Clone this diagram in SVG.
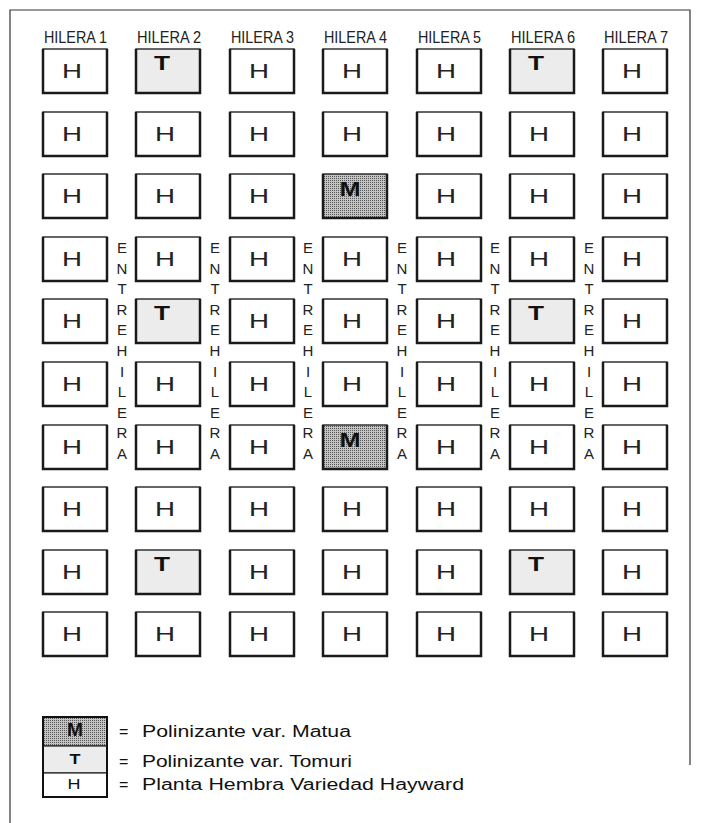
<svg xmlns="http://www.w3.org/2000/svg" width="704" height="823" viewBox="0 0 704 823">
<defs>
<pattern id="dots" width="2" height="2" patternUnits="userSpaceOnUse">
<rect width="2" height="2" fill="#c4c4c4"/>
<rect width="1" height="1" fill="#555"/>
</pattern>
<style>
.bx{stroke:#333;stroke-width:1.5;fill:#fff}
.bt{fill:#ececec}
.bm{fill:url(#dots)}
.ed{fill:none;stroke:#1a1a1a;stroke-width:2.5}
.h{font-family:"Liberation Sans",Arial,sans-serif;font-size:21px;fill:#222;text-anchor:middle}
.b{font-family:"Liberation Sans",Arial,sans-serif;font-size:21px;font-weight:bold;fill:#111;text-anchor:middle}
.hd{font-family:"Liberation Sans",Arial,sans-serif;font-size:16px;fill:#222}
.v{font-family:"Liberation Sans",Arial,sans-serif;font-size:15px;fill:#222;text-anchor:middle}
.lg{font-family:"Liberation Sans",Arial,sans-serif;font-size:16px;fill:#111}
</style>
</defs>
<rect width="704" height="823" fill="#fff"/>
<path d="M10,823 V10 H690 V765" fill="none" stroke="#333" stroke-width="1.2"/>
<g id="headers">
<text class="hd" x="44" y="43" textLength="63" lengthAdjust="spacingAndGlyphs">HILERA 1</text>
<text class="hd" x="137" y="43" textLength="64" lengthAdjust="spacingAndGlyphs">HILERA 2</text>
<text class="hd" x="231" y="43" textLength="63" lengthAdjust="spacingAndGlyphs">HILERA 3</text>
<text class="hd" x="324" y="43" textLength="63" lengthAdjust="spacingAndGlyphs">HILERA 4</text>
<text class="hd" x="418" y="43" textLength="63" lengthAdjust="spacingAndGlyphs">HILERA 5</text>
<text class="hd" x="511" y="43" textLength="64" lengthAdjust="spacingAndGlyphs">HILERA 6</text>
<text class="hd" x="604" y="43" textLength="64" lengthAdjust="spacingAndGlyphs">HILERA 7</text>
</g>
<g id="entrehileras">
<text class="v"><tspan x="122" y="253">E</tspan><tspan x="122" y="273.6">N</tspan><tspan x="122" y="294.2">T</tspan><tspan x="122" y="314.8">R</tspan><tspan x="122" y="335.4">E</tspan><tspan x="122" y="356">H</tspan><tspan x="122" y="376.6">I</tspan><tspan x="122" y="397.2">L</tspan><tspan x="122" y="417.8">E</tspan><tspan x="122" y="438.4">R</tspan><tspan x="122" y="459">A</tspan></text>
<text class="v"><tspan x="215" y="253">E</tspan><tspan x="215" y="273.6">N</tspan><tspan x="215" y="294.2">T</tspan><tspan x="215" y="314.8">R</tspan><tspan x="215" y="335.4">E</tspan><tspan x="215" y="356">H</tspan><tspan x="215" y="376.6">I</tspan><tspan x="215" y="397.2">L</tspan><tspan x="215" y="417.8">E</tspan><tspan x="215" y="438.4">R</tspan><tspan x="215" y="459">A</tspan></text>
<text class="v"><tspan x="308" y="253">E</tspan><tspan x="308" y="273.6">N</tspan><tspan x="308" y="294.2">T</tspan><tspan x="308" y="314.8">R</tspan><tspan x="308" y="335.4">E</tspan><tspan x="308" y="356">H</tspan><tspan x="308" y="376.6">I</tspan><tspan x="308" y="397.2">L</tspan><tspan x="308" y="417.8">E</tspan><tspan x="308" y="438.4">R</tspan><tspan x="308" y="459">A</tspan></text>
<text class="v"><tspan x="402" y="253">E</tspan><tspan x="402" y="273.6">N</tspan><tspan x="402" y="294.2">T</tspan><tspan x="402" y="314.8">R</tspan><tspan x="402" y="335.4">E</tspan><tspan x="402" y="356">H</tspan><tspan x="402" y="376.6">I</tspan><tspan x="402" y="397.2">L</tspan><tspan x="402" y="417.8">E</tspan><tspan x="402" y="438.4">R</tspan><tspan x="402" y="459">A</tspan></text>
<text class="v"><tspan x="495" y="253">E</tspan><tspan x="495" y="273.6">N</tspan><tspan x="495" y="294.2">T</tspan><tspan x="495" y="314.8">R</tspan><tspan x="495" y="335.4">E</tspan><tspan x="495" y="356">H</tspan><tspan x="495" y="376.6">I</tspan><tspan x="495" y="397.2">L</tspan><tspan x="495" y="417.8">E</tspan><tspan x="495" y="438.4">R</tspan><tspan x="495" y="459">A</tspan></text>
<text class="v"><tspan x="589" y="253">E</tspan><tspan x="589" y="273.6">N</tspan><tspan x="589" y="294.2">T</tspan><tspan x="589" y="314.8">R</tspan><tspan x="589" y="335.4">E</tspan><tspan x="589" y="356">H</tspan><tspan x="589" y="376.6">I</tspan><tspan x="589" y="397.2">L</tspan><tspan x="589" y="417.8">E</tspan><tspan x="589" y="438.4">R</tspan><tspan x="589" y="459">A</tspan></text>
</g>
<g id="grid">
<!-- Row 1 y=49 -->
<g id="r1c1"><rect class="bx" x="43" y="49" width="64" height="44"/><path class="ed" d="M43,49 V93 H107 V49"/><text class="h" x="72" y="77.5" textLength="20" lengthAdjust="spacingAndGlyphs">H</text></g>
<g id="r1c2"><rect class="bx bt" x="136" y="49" width="64" height="44"/><path class="ed" d="M136,49 V93 H200 V49"/><text class="b" x="162" y="70" textLength="16" lengthAdjust="spacingAndGlyphs">T</text></g>
<g id="r1c3"><rect class="bx" x="230" y="49" width="64" height="44"/><path class="ed" d="M230,49 V93 H294 V49"/><text class="h" x="259" y="77.5" textLength="20" lengthAdjust="spacingAndGlyphs">H</text></g>
<g id="r1c4"><rect class="bx" x="323" y="49" width="64" height="44"/><path class="ed" d="M323,49 V93 H387 V49"/><text class="h" x="352" y="77.5" textLength="20" lengthAdjust="spacingAndGlyphs">H</text></g>
<g id="r1c5"><rect class="bx" x="417" y="49" width="64" height="44"/><path class="ed" d="M417,49 V93 H481 V49"/><text class="h" x="446" y="77.5" textLength="20" lengthAdjust="spacingAndGlyphs">H</text></g>
<g id="r1c6"><rect class="bx bt" x="510" y="49" width="64" height="44"/><path class="ed" d="M510,49 V93 H574 V49"/><text class="b" x="536" y="70" textLength="16" lengthAdjust="spacingAndGlyphs">T</text></g>
<g id="r1c7"><rect class="bx" x="603" y="49" width="64" height="44"/><path class="ed" d="M603,49 V93 H667 V49"/><text class="h" x="632" y="77.5" textLength="20" lengthAdjust="spacingAndGlyphs">H</text></g>
<!-- Row 2 y=112 -->
<g id="r2c1"><rect class="bx" x="43" y="112" width="64" height="44"/><path class="ed" d="M43,112 V156 H107 V112"/><text class="h" x="72" y="140.5" textLength="20" lengthAdjust="spacingAndGlyphs">H</text></g>
<g id="r2c2"><rect class="bx" x="136" y="112" width="64" height="44"/><path class="ed" d="M136,112 V156 H200 V112"/><text class="h" x="165" y="140.5" textLength="20" lengthAdjust="spacingAndGlyphs">H</text></g>
<g id="r2c3"><rect class="bx" x="230" y="112" width="64" height="44"/><path class="ed" d="M230,112 V156 H294 V112"/><text class="h" x="259" y="140.5" textLength="20" lengthAdjust="spacingAndGlyphs">H</text></g>
<g id="r2c4"><rect class="bx" x="323" y="112" width="64" height="44"/><path class="ed" d="M323,112 V156 H387 V112"/><text class="h" x="352" y="140.5" textLength="20" lengthAdjust="spacingAndGlyphs">H</text></g>
<g id="r2c5"><rect class="bx" x="417" y="112" width="64" height="44"/><path class="ed" d="M417,112 V156 H481 V112"/><text class="h" x="446" y="140.5" textLength="20" lengthAdjust="spacingAndGlyphs">H</text></g>
<g id="r2c6"><rect class="bx" x="510" y="112" width="64" height="44"/><path class="ed" d="M510,112 V156 H574 V112"/><text class="h" x="539" y="140.5" textLength="20" lengthAdjust="spacingAndGlyphs">H</text></g>
<g id="r2c7"><rect class="bx" x="603" y="112" width="64" height="44"/><path class="ed" d="M603,112 V156 H667 V112"/><text class="h" x="632" y="140.5" textLength="20" lengthAdjust="spacingAndGlyphs">H</text></g>
<!-- Row 3 y=174 -->
<g id="r3c1"><rect class="bx" x="43" y="174" width="64" height="44"/><path class="ed" d="M43,174 V218 H107 V174"/><text class="h" x="72" y="202.5" textLength="20" lengthAdjust="spacingAndGlyphs">H</text></g>
<g id="r3c2"><rect class="bx" x="136" y="174" width="64" height="44"/><path class="ed" d="M136,174 V218 H200 V174"/><text class="h" x="165" y="202.5" textLength="20" lengthAdjust="spacingAndGlyphs">H</text></g>
<g id="r3c3"><rect class="bx" x="230" y="174" width="64" height="44"/><path class="ed" d="M230,174 V218 H294 V174"/><text class="h" x="259" y="202.5" textLength="20" lengthAdjust="spacingAndGlyphs">H</text></g>
<g id="r3c4"><rect class="bx bm" x="323" y="174" width="64" height="44"/><path class="ed" d="M323,174 V218 H387 V174"/><text class="b" x="350" y="196" textLength="21" lengthAdjust="spacingAndGlyphs">M</text></g>
<g id="r3c5"><rect class="bx" x="417" y="174" width="64" height="44"/><path class="ed" d="M417,174 V218 H481 V174"/><text class="h" x="446" y="202.5" textLength="20" lengthAdjust="spacingAndGlyphs">H</text></g>
<g id="r3c6"><rect class="bx" x="510" y="174" width="64" height="44"/><path class="ed" d="M510,174 V218 H574 V174"/><text class="h" x="539" y="202.5" textLength="20" lengthAdjust="spacingAndGlyphs">H</text></g>
<g id="r3c7"><rect class="bx" x="603" y="174" width="64" height="44"/><path class="ed" d="M603,174 V218 H667 V174"/><text class="h" x="632" y="202.5" textLength="20" lengthAdjust="spacingAndGlyphs">H</text></g>
<!-- Row 4 y=237 -->
<g id="r4c1"><rect class="bx" x="43" y="237" width="64" height="44"/><path class="ed" d="M43,237 V281 H107 V237"/><text class="h" x="72" y="265.5" textLength="20" lengthAdjust="spacingAndGlyphs">H</text></g>
<g id="r4c2"><rect class="bx" x="136" y="237" width="64" height="44"/><path class="ed" d="M136,237 V281 H200 V237"/><text class="h" x="165" y="265.5" textLength="20" lengthAdjust="spacingAndGlyphs">H</text></g>
<g id="r4c3"><rect class="bx" x="230" y="237" width="64" height="44"/><path class="ed" d="M230,237 V281 H294 V237"/><text class="h" x="259" y="265.5" textLength="20" lengthAdjust="spacingAndGlyphs">H</text></g>
<g id="r4c4"><rect class="bx" x="323" y="237" width="64" height="44"/><path class="ed" d="M323,237 V281 H387 V237"/><text class="h" x="352" y="265.5" textLength="20" lengthAdjust="spacingAndGlyphs">H</text></g>
<g id="r4c5"><rect class="bx" x="417" y="237" width="64" height="44"/><path class="ed" d="M417,237 V281 H481 V237"/><text class="h" x="446" y="265.5" textLength="20" lengthAdjust="spacingAndGlyphs">H</text></g>
<g id="r4c6"><rect class="bx" x="510" y="237" width="64" height="44"/><path class="ed" d="M510,237 V281 H574 V237"/><text class="h" x="539" y="265.5" textLength="20" lengthAdjust="spacingAndGlyphs">H</text></g>
<g id="r4c7"><rect class="bx" x="603" y="237" width="64" height="44"/><path class="ed" d="M603,237 V281 H667 V237"/><text class="h" x="632" y="265.5" textLength="20" lengthAdjust="spacingAndGlyphs">H</text></g>
<!-- Row 5 y=299 -->
<g id="r5c1"><rect class="bx" x="43" y="299" width="64" height="44"/><path class="ed" d="M43,299 V343 H107 V299"/><text class="h" x="72" y="327.5" textLength="20" lengthAdjust="spacingAndGlyphs">H</text></g>
<g id="r5c2"><rect class="bx bt" x="136" y="299" width="64" height="44"/><path class="ed" d="M136,299 V343 H200 V299"/><text class="b" x="162" y="320" textLength="16" lengthAdjust="spacingAndGlyphs">T</text></g>
<g id="r5c3"><rect class="bx" x="230" y="299" width="64" height="44"/><path class="ed" d="M230,299 V343 H294 V299"/><text class="h" x="259" y="327.5" textLength="20" lengthAdjust="spacingAndGlyphs">H</text></g>
<g id="r5c4"><rect class="bx" x="323" y="299" width="64" height="44"/><path class="ed" d="M323,299 V343 H387 V299"/><text class="h" x="352" y="327.5" textLength="20" lengthAdjust="spacingAndGlyphs">H</text></g>
<g id="r5c5"><rect class="bx" x="417" y="299" width="64" height="44"/><path class="ed" d="M417,299 V343 H481 V299"/><text class="h" x="446" y="327.5" textLength="20" lengthAdjust="spacingAndGlyphs">H</text></g>
<g id="r5c6"><rect class="bx bt" x="510" y="299" width="64" height="44"/><path class="ed" d="M510,299 V343 H574 V299"/><text class="b" x="536" y="320" textLength="16" lengthAdjust="spacingAndGlyphs">T</text></g>
<g id="r5c7"><rect class="bx" x="603" y="299" width="64" height="44"/><path class="ed" d="M603,299 V343 H667 V299"/><text class="h" x="632" y="327.5" textLength="20" lengthAdjust="spacingAndGlyphs">H</text></g>
<!-- Row 6 y=362 -->
<g id="r6c1"><rect class="bx" x="43" y="362" width="64" height="44"/><path class="ed" d="M43,362 V406 H107 V362"/><text class="h" x="72" y="390.5" textLength="20" lengthAdjust="spacingAndGlyphs">H</text></g>
<g id="r6c2"><rect class="bx" x="136" y="362" width="64" height="44"/><path class="ed" d="M136,362 V406 H200 V362"/><text class="h" x="165" y="390.5" textLength="20" lengthAdjust="spacingAndGlyphs">H</text></g>
<g id="r6c3"><rect class="bx" x="230" y="362" width="64" height="44"/><path class="ed" d="M230,362 V406 H294 V362"/><text class="h" x="259" y="390.5" textLength="20" lengthAdjust="spacingAndGlyphs">H</text></g>
<g id="r6c4"><rect class="bx" x="323" y="362" width="64" height="44"/><path class="ed" d="M323,362 V406 H387 V362"/><text class="h" x="352" y="390.5" textLength="20" lengthAdjust="spacingAndGlyphs">H</text></g>
<g id="r6c5"><rect class="bx" x="417" y="362" width="64" height="44"/><path class="ed" d="M417,362 V406 H481 V362"/><text class="h" x="446" y="390.5" textLength="20" lengthAdjust="spacingAndGlyphs">H</text></g>
<g id="r6c6"><rect class="bx" x="510" y="362" width="64" height="44"/><path class="ed" d="M510,362 V406 H574 V362"/><text class="h" x="539" y="390.5" textLength="20" lengthAdjust="spacingAndGlyphs">H</text></g>
<g id="r6c7"><rect class="bx" x="603" y="362" width="64" height="44"/><path class="ed" d="M603,362 V406 H667 V362"/><text class="h" x="632" y="390.5" textLength="20" lengthAdjust="spacingAndGlyphs">H</text></g>
<!-- Row 7 y=425 -->
<g id="r7c1"><rect class="bx" x="43" y="425" width="64" height="44"/><path class="ed" d="M43,425 V469 H107 V425"/><text class="h" x="72" y="453.5" textLength="20" lengthAdjust="spacingAndGlyphs">H</text></g>
<g id="r7c2"><rect class="bx" x="136" y="425" width="64" height="44"/><path class="ed" d="M136,425 V469 H200 V425"/><text class="h" x="165" y="453.5" textLength="20" lengthAdjust="spacingAndGlyphs">H</text></g>
<g id="r7c3"><rect class="bx" x="230" y="425" width="64" height="44"/><path class="ed" d="M230,425 V469 H294 V425"/><text class="h" x="259" y="453.5" textLength="20" lengthAdjust="spacingAndGlyphs">H</text></g>
<g id="r7c4"><rect class="bx bm" x="323" y="425" width="64" height="44"/><path class="ed" d="M323,425 V469 H387 V425"/><text class="b" x="350" y="447" textLength="21" lengthAdjust="spacingAndGlyphs">M</text></g>
<g id="r7c5"><rect class="bx" x="417" y="425" width="64" height="44"/><path class="ed" d="M417,425 V469 H481 V425"/><text class="h" x="446" y="453.5" textLength="20" lengthAdjust="spacingAndGlyphs">H</text></g>
<g id="r7c6"><rect class="bx" x="510" y="425" width="64" height="44"/><path class="ed" d="M510,425 V469 H574 V425"/><text class="h" x="539" y="453.5" textLength="20" lengthAdjust="spacingAndGlyphs">H</text></g>
<g id="r7c7"><rect class="bx" x="603" y="425" width="64" height="44"/><path class="ed" d="M603,425 V469 H667 V425"/><text class="h" x="632" y="453.5" textLength="20" lengthAdjust="spacingAndGlyphs">H</text></g>
<!-- Row 8 y=487 -->
<g id="r8c1"><rect class="bx" x="43" y="487" width="64" height="44"/><path class="ed" d="M43,487 V531 H107 V487"/><text class="h" x="72" y="515.5" textLength="20" lengthAdjust="spacingAndGlyphs">H</text></g>
<g id="r8c2"><rect class="bx" x="136" y="487" width="64" height="44"/><path class="ed" d="M136,487 V531 H200 V487"/><text class="h" x="165" y="515.5" textLength="20" lengthAdjust="spacingAndGlyphs">H</text></g>
<g id="r8c3"><rect class="bx" x="230" y="487" width="64" height="44"/><path class="ed" d="M230,487 V531 H294 V487"/><text class="h" x="259" y="515.5" textLength="20" lengthAdjust="spacingAndGlyphs">H</text></g>
<g id="r8c4"><rect class="bx" x="323" y="487" width="64" height="44"/><path class="ed" d="M323,487 V531 H387 V487"/><text class="h" x="352" y="515.5" textLength="20" lengthAdjust="spacingAndGlyphs">H</text></g>
<g id="r8c5"><rect class="bx" x="417" y="487" width="64" height="44"/><path class="ed" d="M417,487 V531 H481 V487"/><text class="h" x="446" y="515.5" textLength="20" lengthAdjust="spacingAndGlyphs">H</text></g>
<g id="r8c6"><rect class="bx" x="510" y="487" width="64" height="44"/><path class="ed" d="M510,487 V531 H574 V487"/><text class="h" x="539" y="515.5" textLength="20" lengthAdjust="spacingAndGlyphs">H</text></g>
<g id="r8c7"><rect class="bx" x="603" y="487" width="64" height="44"/><path class="ed" d="M603,487 V531 H667 V487"/><text class="h" x="632" y="515.5" textLength="20" lengthAdjust="spacingAndGlyphs">H</text></g>
<!-- Row 9 y=550 -->
<g id="r9c1"><rect class="bx" x="43" y="550" width="64" height="44"/><path class="ed" d="M43,550 V594 H107 V550"/><text class="h" x="72" y="578.5" textLength="20" lengthAdjust="spacingAndGlyphs">H</text></g>
<g id="r9c2"><rect class="bx bt" x="136" y="550" width="64" height="44"/><path class="ed" d="M136,550 V594 H200 V550"/><text class="b" x="162" y="571" textLength="16" lengthAdjust="spacingAndGlyphs">T</text></g>
<g id="r9c3"><rect class="bx" x="230" y="550" width="64" height="44"/><path class="ed" d="M230,550 V594 H294 V550"/><text class="h" x="259" y="578.5" textLength="20" lengthAdjust="spacingAndGlyphs">H</text></g>
<g id="r9c4"><rect class="bx" x="323" y="550" width="64" height="44"/><path class="ed" d="M323,550 V594 H387 V550"/><text class="h" x="352" y="578.5" textLength="20" lengthAdjust="spacingAndGlyphs">H</text></g>
<g id="r9c5"><rect class="bx" x="417" y="550" width="64" height="44"/><path class="ed" d="M417,550 V594 H481 V550"/><text class="h" x="446" y="578.5" textLength="20" lengthAdjust="spacingAndGlyphs">H</text></g>
<g id="r9c6"><rect class="bx bt" x="510" y="550" width="64" height="44"/><path class="ed" d="M510,550 V594 H574 V550"/><text class="b" x="536" y="571" textLength="16" lengthAdjust="spacingAndGlyphs">T</text></g>
<g id="r9c7"><rect class="bx" x="603" y="550" width="64" height="44"/><path class="ed" d="M603,550 V594 H667 V550"/><text class="h" x="632" y="578.5" textLength="20" lengthAdjust="spacingAndGlyphs">H</text></g>
<!-- Row 10 y=612 -->
<g id="r10c1"><rect class="bx" x="43" y="612" width="64" height="44"/><path class="ed" d="M43,612 V656 H107 V612"/><text class="h" x="72" y="640.5" textLength="20" lengthAdjust="spacingAndGlyphs">H</text></g>
<g id="r10c2"><rect class="bx" x="136" y="612" width="64" height="44"/><path class="ed" d="M136,612 V656 H200 V612"/><text class="h" x="165" y="640.5" textLength="20" lengthAdjust="spacingAndGlyphs">H</text></g>
<g id="r10c3"><rect class="bx" x="230" y="612" width="64" height="44"/><path class="ed" d="M230,612 V656 H294 V612"/><text class="h" x="259" y="640.5" textLength="20" lengthAdjust="spacingAndGlyphs">H</text></g>
<g id="r10c4"><rect class="bx" x="323" y="612" width="64" height="44"/><path class="ed" d="M323,612 V656 H387 V612"/><text class="h" x="352" y="640.5" textLength="20" lengthAdjust="spacingAndGlyphs">H</text></g>
<g id="r10c5"><rect class="bx" x="417" y="612" width="64" height="44"/><path class="ed" d="M417,612 V656 H481 V612"/><text class="h" x="446" y="640.5" textLength="20" lengthAdjust="spacingAndGlyphs">H</text></g>
<g id="r10c6"><rect class="bx" x="510" y="612" width="64" height="44"/><path class="ed" d="M510,612 V656 H574 V612"/><text class="h" x="539" y="640.5" textLength="20" lengthAdjust="spacingAndGlyphs">H</text></g>
<g id="r10c7"><rect class="bx" x="603" y="612" width="64" height="44"/><path class="ed" d="M603,612 V656 H667 V612"/><text class="h" x="632" y="640.5" textLength="20" lengthAdjust="spacingAndGlyphs">H</text></g>
</g>
<g id="legend">
<g id="leg-m"><rect x="43" y="717" width="64" height="29" fill="url(#dots)" stroke="#222" stroke-width="1.2"/><text x="75" y="736" font-family="Liberation Sans, Arial, sans-serif" font-size="18" font-weight="bold" fill="#111" text-anchor="middle" textLength="16" lengthAdjust="spacingAndGlyphs">M</text><text class="lg" x="119" y="737">=</text><text class="lg" x="142" y="737" textLength="209" lengthAdjust="spacingAndGlyphs">Polinizante var. Matua</text></g>
<g id="leg-t"><rect x="43" y="746" width="64" height="27" fill="#ececec" stroke="#222" stroke-width="1.2"/><text x="75" y="764" font-family="Liberation Sans, Arial, sans-serif" font-size="15" font-weight="bold" fill="#111" text-anchor="middle" textLength="11" lengthAdjust="spacingAndGlyphs">T</text><text class="lg" x="119" y="767">=</text><text class="lg" x="142" y="767" textLength="210" lengthAdjust="spacingAndGlyphs">Polinizante var. Tomuri</text></g>
<g id="leg-h"><rect x="43" y="773" width="64" height="24" fill="#fff" stroke="#222" stroke-width="1.2"/><text x="74" y="789" font-family="Liberation Sans, Arial, sans-serif" font-size="15" fill="#111" text-anchor="middle" textLength="13" lengthAdjust="spacingAndGlyphs">H</text><text class="lg" x="119" y="790">=</text><text class="lg" x="142" y="790" textLength="322" lengthAdjust="spacingAndGlyphs">Planta Hembra Variedad Hayward</text></g>
<rect x="43" y="717" width="64" height="80" fill="none" stroke="#111" stroke-width="2"/>
</g>
</svg>
